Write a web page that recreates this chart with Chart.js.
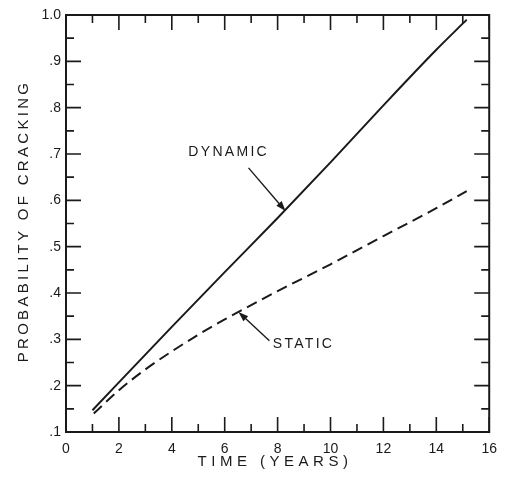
<!DOCTYPE html>
<html>
<head>
<meta charset="utf-8">
<script src="https://cdn.jsdelivr.net/npm/chart.js@4.4.1/dist/chart.umd.min.js"></script>
<style>
  html, body { margin: 0; padding: 0; background: #fff; }
  #wrap { width: 506px; height: 481px; }
</style>
</head>
<body>
<div id="wrap"><canvas id="chart" width="506" height="481"></canvas></div>
<script>
// curves
const yearsDynamic = [1, 2, 4, 6, 8, 10, 12, 14, 15.15];
const probDynamic = [0.147, 0.207, 0.327, 0.445, 0.562, 0.682, 0.805, 0.925, 0.99];
const yearsStatic = [1.05, 2, 3, 4, 5, 6, 8, 10, 12, 14, 15.15];
const probStatic = [0.14, 0.19, 0.235, 0.274, 0.31, 0.343, 0.404, 0.462, 0.523, 0.583, 0.62];

// axis ticks
const timeTicks = [0, 2, 4, 6, 8, 10, 12, 14, 16];
const timeMinor = [1, 3, 5, 7, 9, 11, 13, 15];
const probTicks = [0.1, 0.2, 0.3, 0.4, 0.5, 0.6, 0.7, 0.8, 0.9, 1.0];
const probLabels = [".1", ".2", ".3", ".4", ".5", ".6", ".7", ".8", ".9", "1.0"];
const probMinor = [0.15, 0.25, 0.35, 0.45, 0.55, 0.65, 0.75, 0.85, 0.95];

const ink = "#1a1a1a";
const family = '"Liberation Sans", Arial, sans-serif';

// callouts, in data units
const callouts = [
  { text: "DYNAMIC", at: [6.15, 0.703], from: [6.9, 0.670], to: [8.3, 0.577] },
  { text: "STATIC", at: [8.98, 0.290], from: [7.69, 0.297], to: [6.52, 0.359] }
];

const toPoints = (xs, ys) => xs.map((x, i) => ({ x, y: ys[i] }));

const framePlugin = {
  id: "frame",
  afterDraw(chart) {
    const ctx = chart.ctx;
    const a = chart.chartArea;
    const sx = chart.scales.x;
    const sy = chart.scales.y;

    ctx.save();
    ctx.strokeStyle = ink;
    ctx.lineWidth = 2;
    ctx.strokeRect(a.left, a.top, a.right - a.left, a.bottom - a.top);

    // inward ticks on all four sides
    ctx.lineWidth = 1.6;
    ctx.beginPath();
    const xt = (v, len) => {
      const px = sx.getPixelForValue(v);
      ctx.moveTo(px, a.bottom); ctx.lineTo(px, a.bottom - len);
      ctx.moveTo(px, a.top); ctx.lineTo(px, a.top + len);
    };
    const yt = (v, len) => {
      const py = sy.getPixelForValue(v);
      ctx.moveTo(a.left, py); ctx.lineTo(a.left + len, py);
      ctx.moveTo(a.right, py); ctx.lineTo(a.right - len, py);
    };
    timeTicks.forEach(v => xt(v, 15));
    timeMinor.forEach(v => xt(v, 8));
    probTicks.forEach(v => yt(v, 15));
    probMinor.forEach(v => yt(v, 8));
    ctx.stroke();

    // callouts with arrows
    ctx.fillStyle = ink;
    ctx.font = "14px " + family;
    ctx.letterSpacing = "2.3px";
    ctx.textAlign = "center";
    ctx.textBaseline = "middle";
    callouts.forEach(c => {
      ctx.fillText(c.text, sx.getPixelForValue(c.at[0]), sy.getPixelForValue(c.at[1]));
      const x0 = sx.getPixelForValue(c.from[0]);
      const y0 = sy.getPixelForValue(c.from[1]);
      const x1 = sx.getPixelForValue(c.to[0]);
      const y1 = sy.getPixelForValue(c.to[1]);
      const ang = Math.atan2(y1 - y0, x1 - x0);
      ctx.lineWidth = 1.4;
      ctx.beginPath();
      ctx.moveTo(x0, y0);
      ctx.lineTo(x1 - 6 * Math.cos(ang), y1 - 6 * Math.sin(ang));
      ctx.stroke();
      ctx.beginPath();
      ctx.moveTo(x1, y1);
      ctx.lineTo(x1 - 10 * Math.cos(ang) + 3.5 * Math.sin(ang), y1 - 10 * Math.sin(ang) - 3.5 * Math.cos(ang));
      ctx.lineTo(x1 - 10 * Math.cos(ang) - 3.5 * Math.sin(ang), y1 - 10 * Math.sin(ang) + 3.5 * Math.cos(ang));
      ctx.closePath();
      ctx.fill();
    });

    // axis titles
    ctx.font = "15px " + family;
    ctx.letterSpacing = "4.5px";
    ctx.fillText("TIME (YEARS)", 275, 462);
    ctx.letterSpacing = "3.3px";
    ctx.translate(24, 221);
    ctx.rotate(-Math.PI / 2);
    ctx.fillText("PROBABILITY OF CRACKING", 0, 0);
    ctx.restore();
  }
};

new Chart(document.getElementById("chart"), {
  type: "line",
  data: {
    datasets: [
      {
        label: "Dynamic",
        data: toPoints(yearsDynamic, probDynamic),
        borderColor: ink,
        borderWidth: 2,
        pointRadius: 0,
        cubicInterpolationMode: "monotone"
      },
      {
        label: "Static",
        data: toPoints(yearsStatic, probStatic),
        borderColor: ink,
        borderWidth: 2,
        borderDash: [11, 6],
        pointRadius: 0,
        cubicInterpolationMode: "monotone"
      }
    ]
  },
  options: {
    responsive: false,
    animation: false,
    layout: { padding: { top: 15, right: 14, left: 0, bottom: 0 } },
    plugins: {
      legend: { display: false },
      tooltip: { enabled: false }
    },
    scales: {
      x: {
        type: "linear",
        min: 0,
        max: 16,
        afterFit: s => { s.height = 49; },
        afterBuildTicks: s => { s.ticks = timeTicks.map(v => ({ value: v })); },
        grid: { display: true, drawOnChartArea: false, drawTicks: false },
        border: { display: false },
        ticks: {
          color: ink,
          font: { family, size: 14 },
          padding: 9,
          maxRotation: 0,
          autoSkip: false,
          callback: v => String(v)
        }
      },
      y: {
        type: "linear",
        min: 0.1,
        max: 1.0,
        afterFit: s => { s.width = 66; },
        afterBuildTicks: s => { s.ticks = probTicks.map(v => ({ value: v })); },
        grid: { display: true, drawOnChartArea: false, drawTicks: false },
        border: { display: false },
        ticks: {
          color: ink,
          font: { family, size: 14 },
          padding: 5,
          autoSkip: false,
          callback: (v, i) => probLabels[i]
        }
      }
    }
  },
  plugins: [framePlugin]
});
</script>
</body>
</html>
